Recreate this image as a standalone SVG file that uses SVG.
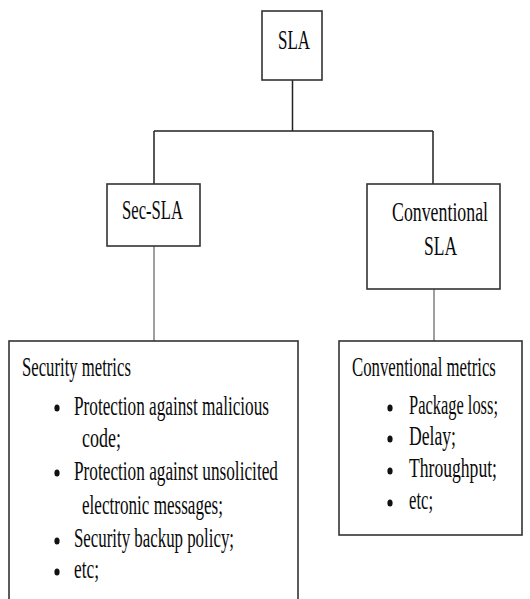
<svg xmlns="http://www.w3.org/2000/svg" width="530" height="599" viewBox="0 0 530 599">
<style>
.box{fill:#fff;stroke:#333;stroke-width:1.6}
.t{font-family:"Liberation Serif","Times New Roman",serif;font-size:27px;fill:#0a0a0a}
.conn{fill:none;stroke:#222;stroke-width:1.5}
.conn2{fill:none;stroke:#808080;stroke-width:1.5}
.b{fill:#111}
</style>
<rect width="530" height="599" fill="#fff"/>
<g id="connectors">
<path class="conn" d="M292.5 80 V131 M154 131 H433 M154 131 V184 M433 131 V184"/>
<path class="conn2" d="M154 246 V341 M434 289 V341"/>
</g>
<g id="sla">
<rect class="box" x="262" y="11" width="60" height="69"/>
<text class="t" transform="translate(278 49) scale(0.66 1)" textLength="48.5" lengthAdjust="spacingAndGlyphs">SLA</text>
</g>
<g id="sec-sla">
<rect class="box" x="107" y="184" width="93" height="62"/>
<text class="t" transform="translate(122 219) scale(0.66 1)" textLength="92.4" lengthAdjust="spacingAndGlyphs">Sec-SLA</text>
</g>
<g id="conventional-sla">
<rect class="box" x="367" y="184" width="133" height="105"/>
<text class="t" transform="translate(392 221) scale(0.66 1)" textLength="145.5" lengthAdjust="spacingAndGlyphs">Conventional</text>
<text class="t" transform="translate(424 255) scale(0.66 1)" textLength="50" lengthAdjust="spacingAndGlyphs">SLA</text>
</g>
<g id="security-metrics">
<rect class="box" x="9" y="341" width="289" height="280"/>
<text class="t" transform="translate(22 376) scale(0.66 1)" textLength="165" lengthAdjust="spacingAndGlyphs">Security metrics</text>
<ellipse class="b" cx="57" cy="408" rx="2.6" ry="3.6"/>
<text class="t" transform="translate(74 415) scale(0.66 1)" textLength="295.5" lengthAdjust="spacingAndGlyphs">Protection against malicious</text>
<text class="t" transform="translate(82 447) scale(0.66 1)" textLength="59" lengthAdjust="spacingAndGlyphs">code;</text>
<ellipse class="b" cx="57" cy="473" rx="2.6" ry="3.6"/>
<text class="t" transform="translate(74 480) scale(0.66 1)" textLength="309" lengthAdjust="spacingAndGlyphs">Protection against unsolicited</text>
<text class="t" transform="translate(82 514) scale(0.66 1)" textLength="213.6" lengthAdjust="spacingAndGlyphs">electronic messages;</text>
<ellipse class="b" cx="57" cy="541" rx="2.6" ry="3.6"/>
<text class="t" transform="translate(74 547) scale(0.66 1)" textLength="242.4" lengthAdjust="spacingAndGlyphs">Security backup policy;</text>
<ellipse class="b" cx="57" cy="572" rx="2.6" ry="3.6"/>
<text class="t" transform="translate(74 578) scale(0.66 1)" textLength="37.9" lengthAdjust="spacingAndGlyphs">etc;</text>
</g>
<g id="conventional-metrics">
<rect class="box" x="339" y="341" width="183" height="194"/>
<text class="t" transform="translate(352 376) scale(0.66 1)" textLength="218" lengthAdjust="spacingAndGlyphs">Conventional metrics</text>
<ellipse class="b" cx="390" cy="408" rx="2.6" ry="3.6"/>
<text class="t" transform="translate(409 414) scale(0.66 1)" textLength="134.8" lengthAdjust="spacingAndGlyphs">Package loss;</text>
<ellipse class="b" cx="390" cy="439" rx="2.6" ry="3.6"/>
<text class="t" transform="translate(409 445) scale(0.66 1)" textLength="71.2" lengthAdjust="spacingAndGlyphs">Delay;</text>
<ellipse class="b" cx="390" cy="471" rx="2.6" ry="3.6"/>
<text class="t" transform="translate(409 477) scale(0.66 1)" textLength="133.3" lengthAdjust="spacingAndGlyphs">Throughput;</text>
<ellipse class="b" cx="390" cy="503" rx="2.6" ry="3.6"/>
<text class="t" transform="translate(409 509) scale(0.66 1)" textLength="36.4" lengthAdjust="spacingAndGlyphs">etc;</text>
</g>
</svg>
